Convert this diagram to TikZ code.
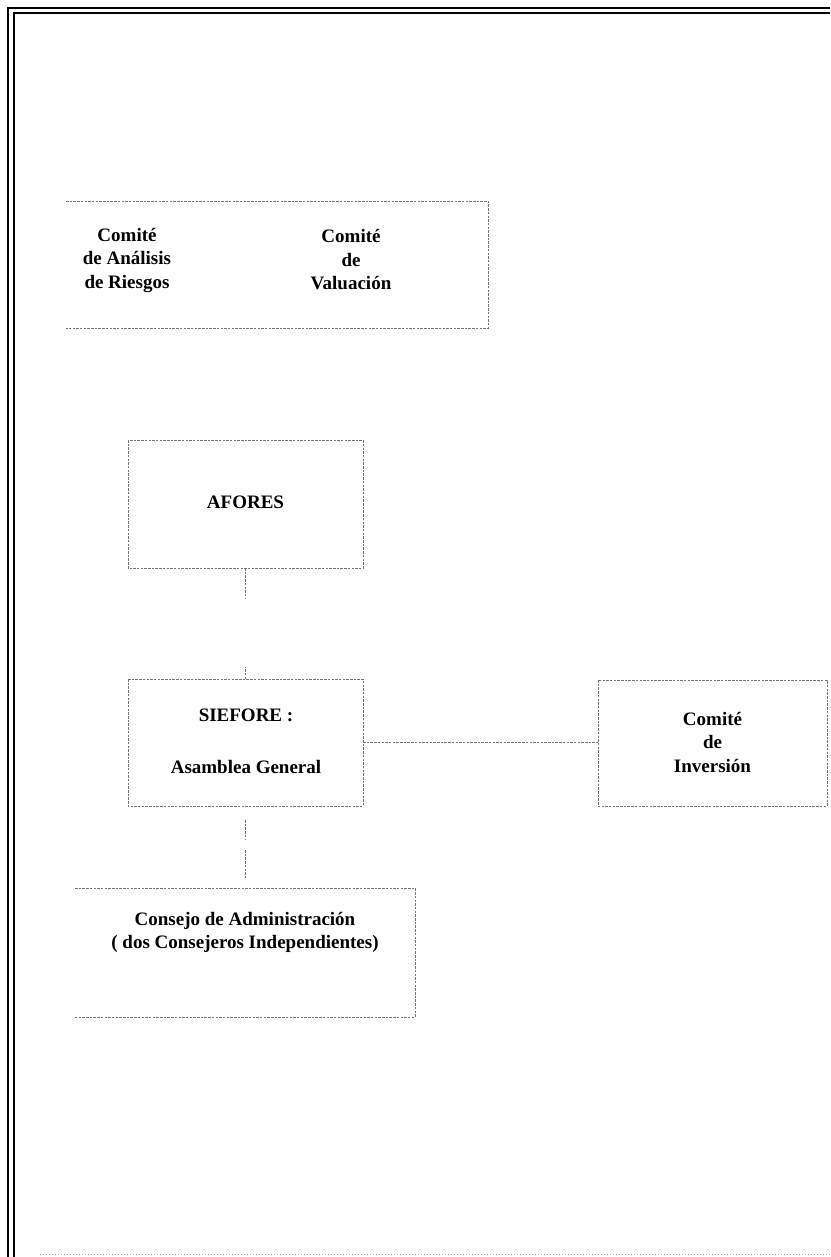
\documentclass[tikz,border=0pt]{standalone}
\usepackage{fontspec}
\setmainfont{Liberation Serif}
\begin{document}
\begin{tikzpicture}[x=1pt,y=-1pt,
  every node/.style={inner sep=0pt,outer sep=0pt},
  label text/.style={align=center,font=\bfseries\fontsize{19}{23.5}\selectfont},
  edge line/.style={draw=black!55,line width=0.6pt,dash pattern=on 2.5pt off 1.2pt},
  frame line/.style={draw=black,line width=2.4pt}]
\useasboundingbox (0,0) rectangle (830,1257);

% double page frame on the left and top, faint rule at the foot
\draw[frame line] (8,1257) -- (8,8) -- (830,8);
\draw[frame line,line width=2pt] (13.5,1257) -- (13.5,13.5) -- (830,13.5);
\draw[draw=black!35,line width=0.6pt,dash pattern=on 1pt off 2pt] (40,1254) -- (830,1254);

% committees box (open on the left)
\node[minimum width=422pt,minimum height=127pt] (comites) at (277,264.5) {};
\node[label text] (riesgos) at (127,260) {Comité\\de Análisis\\de Riesgos};
\node[label text] (valuacion) at (351,260) {Comité\\de\\Valuación};
\draw[edge line] (comites.north west) -- (comites.north east) -- (comites.south east) -- (comites.south west);

% AFORES
\node[minimum width=235pt,minimum height=128pt] (afores) at (245.5,504) {};
\node[label text] (aforesT) at (245.5,502) {AFORES};
\draw[edge line] (afores.north west) rectangle (afores.south east);

% SIEFORE
\node[minimum width=235pt,minimum height=127pt] (siefore) at (245.5,742.5) {};
\node[label text] (sieforeT) at (246,741.5) {SIEFORE :\\[29pt]Asamblea General};
\draw[edge line] (siefore.north west) rectangle (siefore.south east);

% Comité de Inversión
\node[minimum width=229pt,minimum height=126pt] (inversion) at (712.5,743) {};
\node[label text] (inversionT) at (712.5,742) {Comité\\de\\Inversión};
\draw[edge line] (inversion.north west) rectangle (inversion.south east);

% Consejo de Administración (open on the left)
\node[minimum width=340pt,minimum height=129pt] (consejo) at (245,952.5) {};
\node[label text] (consejoT) at (245,932.5) {Consejo de Administración\\( dos Consejeros Independientes)};
\draw[edge line] (consejo.north west) -- (consejo.north east) -- (consejo.south east) -- (consejo.south west);

% connectors (partly faded between the boxes)
\coordinate (aforesEnd) at ([yshift=-30pt]afores.south);
\coordinate (sieforeTop) at ([yshift=12pt]siefore.north);
\draw[edge line] (afores.south) -- (aforesEnd);
\draw[edge line] (siefore.north) -- (sieforeTop);
\draw[edge line] (siefore.east) -- (siefore.east -| inversion.west);
\coordinate (sieforeLow) at ([yshift=-14pt]siefore.south);
\coordinate (sieforeLow2) at ([yshift=-34pt]siefore.south);
\coordinate (consejoUp) at ([yshift=38pt]consejo.north);
\coordinate (consejoUp2) at ([yshift=10pt]consejo.north);
\draw[edge line] (sieforeLow) -- (sieforeLow2);
\draw[edge line] (consejoUp) -- (consejoUp2);
\end{tikzpicture}
\end{document}
